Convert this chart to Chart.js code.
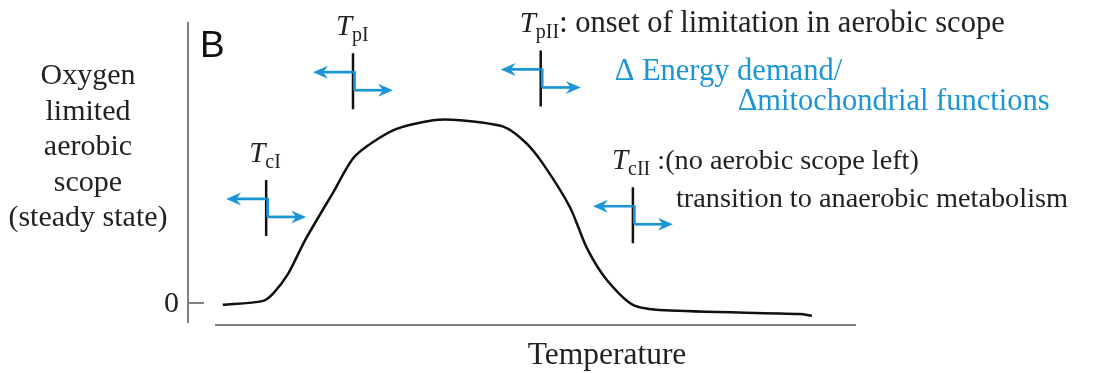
<!DOCTYPE html>
<html>
<head>
<meta charset="utf-8">
<script src="https://cdn.jsdelivr.net/npm/chart.js@4.4.0/dist/chart.umd.min.js"></script>
<style>
html, body { margin: 0; padding: 0; background: #fff; }
</style>
</head>
<body>
<canvas id="myChart" width="1113" height="373"></canvas>
<script>
// temperature (arbitrary units) vs oxygen limited aerobic scope
var temperature = [5.2, 11.1, 12.7, 15.0, 17.5, 21.7, 25.0, 30.7, 36.7, 40.7, 47.2, 50.5, 53.1, 57.2, 59.7, 62.7, 66.6, 71.4, 91.6, 93.4]
var scope = [-0.1, 0.1, 0.5, 1.6, 3.4, 6.0, 8.0, 9.4, 9.95, 9.95, 9.6, 8.75, 7.6, 5.2, 3.0, 1.25, -0.1, -0.4, -0.6, -0.7]

// thresholds: Tc I, Tp I, Tp II, Tc II
var markerNames = ['cI', 'pI', 'pII', 'cII']
var markerTemps = [11.7, 24.7, 52.8, 66.6]
var markerTops = [6.7, 13.6, 13.75, 6.3]
var markerNotes = ['', '', ': onset of limitation in aerobic scope', ' :(no aerobic scope left)']
var noteSizes = [30, 30, 30.5, 28.3]

var yTicks = [0]
var yTitle = ['Oxygen', 'limited', 'aerobic', 'scope', '(steady state)']
var xTitle = 'Temperature'
var panelLabel = 'B'

var blue = '#1b95d5'
var serif = '"Liberation Serif", "Times New Roman", serif'

function arrow(ctx, x1, y, x2) {
    // horizontal line from x1 to tip x2 with barbed head
    let dir = x2 > x1 ? 1 : -1
    ctx.beginPath()
    ctx.moveTo(x1, y)
    ctx.lineTo(x2 - dir * 8, y)
    ctx.stroke()
    ctx.beginPath()
    ctx.moveTo(x2, y)
    ctx.lineTo(x2 - dir * 15, y - 6.5)
    ctx.lineTo(x2 - dir * 10, y)
    ctx.lineTo(x2 - dir * 15, y + 6.5)
    ctx.closePath()
    ctx.fill()
}

const decorations = {
    id: 'decorations',
    afterDraw(chart) {
        const ctx = chart.ctx
        const area = chart.chartArea
        const xs = chart.scales.x
        const ys = chart.scales.y
        ctx.save()

        // axes
        ctx.strokeStyle = '#7f7f7f'
        ctx.lineWidth = 2
        ctx.beginPath()
        ctx.moveTo(area.left, area.top)
        ctx.lineTo(area.left, area.bottom - 2)
        ctx.moveTo(area.left + 27, area.bottom)
        ctx.lineTo(area.right, area.bottom)
        ctx.stroke()

        ctx.fillStyle = '#222'
        ctx.font = '30px ' + serif
        yTicks.forEach(function (v) {
            let y = ys.getPixelForValue(v)
            ctx.beginPath()
            ctx.moveTo(area.left, y)
            ctx.lineTo(area.left + 16, y)
            ctx.stroke()
            ctx.textAlign = 'right'
            ctx.textBaseline = 'middle'
            ctx.fillText(String(v), area.left - 9, y + 1)
        })

        // axis titles
        ctx.textAlign = 'center'
        ctx.textBaseline = 'alphabetic'
        yTitle.forEach(function (t, i) {
            ctx.fillText(t, 88, 84 + i * 35.5)
        })
        ctx.font = '31.5px ' + serif
        ctx.fillText(xTitle, (area.left + area.right) / 2 + 85, 364)

        // panel label
        ctx.font = '37px "Liberation Sans", Arial, sans-serif'
        ctx.textAlign = 'left'
        ctx.fillStyle = '#111'
        ctx.fillText(panelLabel, area.left + 12, 57)

        // thresholds
        markerNames.forEach(function (name, i) {
            let x = xs.getPixelForValue(markerTemps[i])
            let top = ys.getPixelForValue(markerTops[i])
            ctx.strokeStyle = '#111'
            ctx.lineWidth = 2.5
            ctx.beginPath()
            ctx.moveTo(x, top)
            ctx.lineTo(x, top + 56)
            ctx.stroke()

            ctx.strokeStyle = blue
            ctx.fillStyle = blue
            ctx.lineWidth = 2.7
            arrow(ctx, x, top + 19, x - 40)
            ctx.beginPath()
            ctx.moveTo(x + 1.5, top + 18)
            ctx.lineTo(x + 1.5, top + 37)
            ctx.stroke()
            arrow(ctx, x + 1.5, top + 37, x + 40)

            // label T with subscript
            ctx.fillStyle = '#222'
            ctx.textAlign = 'left'
            let lx = i >= 2 ? x - 21 : x - 17
            let by = top - 18
            ctx.font = 'italic 29px ' + serif
            ctx.fillText('T', lx, by)
            lx += ctx.measureText('T').width
            ctx.font = '20px ' + serif
            ctx.fillText(name, lx, by + 6)
            lx += ctx.measureText(name).width
            if (markerNotes[i]) {
                ctx.font = noteSizes[i] + 'px ' + serif
                ctx.fillText(markerNotes[i], lx, by)
            }
        })

        // extra notes
        ctx.font = '28.3px ' + serif
        ctx.fillStyle = '#222'
        let xc = xs.getPixelForValue(markerTemps[3])
        let yc = ys.getPixelForValue(markerTops[3])
        ctx.fillText('transition to anaerobic metabolism', xc + 43, yc + 20)

        let xp = xs.getPixelForValue(markerTemps[2])
        ctx.fillStyle = blue
        ctx.font = '30.5px ' + serif
        ctx.fillText('\u0394 Energy demand/', xp + 74, 80)
        ctx.fillText('\u0394mitochondrial functions', xp + 197, 110)

        ctx.restore()
    }
}

let ctx = document.getElementById('myChart').getContext('2d')
let myChart = new Chart(ctx, {
    type: 'line',
    data: {
        datasets: [{
            label: 'Aerobic scope',
            data: temperature.map((t, i) => ({ x: t, y: scope[i] })),
            borderColor: '#111',
            borderWidth: 2.5,
            pointRadius: 0,
            tension: 0.25,
            fill: false
        }]
    },
    options: {
        responsive: false,
        animation: false,
        devicePixelRatio: 1,
        layout: { padding: { left: 188, right: 257, top: 22, bottom: 48 } },
        plugins: {
            legend: { display: false },
            tooltip: { enabled: false }
        },
        scales: {
            x: { type: 'linear', min: 0, max: 100, display: false },
            y: { type: 'linear', min: -1.2, max: 15.3, display: false }
        }
    },
    plugins: [decorations]
})
</script>
</body>
</html>
